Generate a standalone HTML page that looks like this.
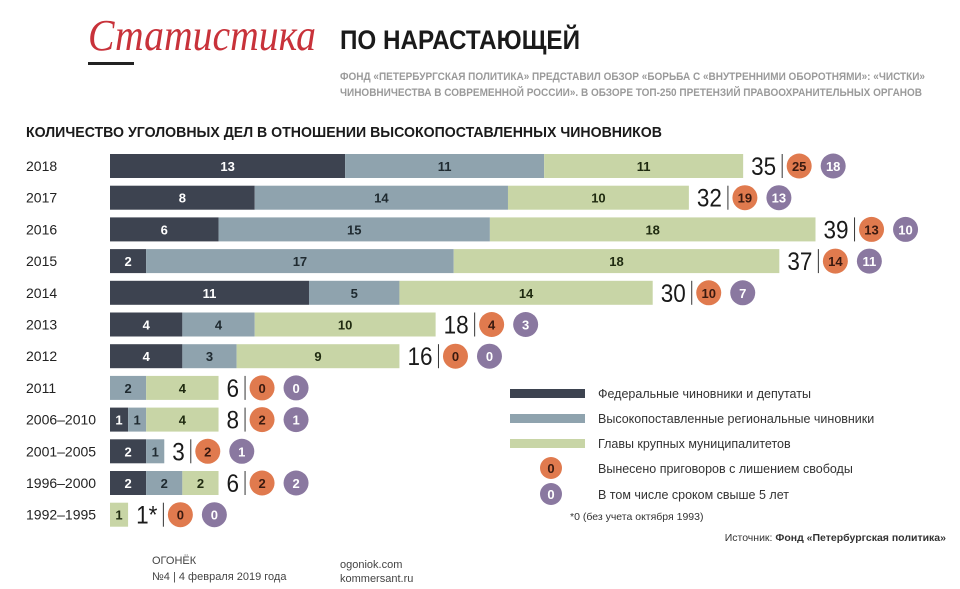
<!DOCTYPE html>
<html><head><meta charset="utf-8">
<style>
body{margin:0;background:#fff;}
svg{display:block;font-family:"Liberation Sans",sans-serif;}
</style></head>
<body>
<svg id="chart" width="960" height="589" viewBox="0 0 960 589">
  <text x="88" y="50" font-family="Liberation Serif,serif" font-style="italic" font-size="44" fill="#c8323a" textLength="228" lengthAdjust="spacingAndGlyphs">Статистика</text>
  <rect x="88" y="62" width="46" height="3" fill="#222"/>
  <text x="340" y="49" font-size="27" font-weight="bold" fill="#1a1a1a" textLength="240" lengthAdjust="spacingAndGlyphs">ПО НАРАСТАЮЩЕЙ</text>
  <text x="340" y="80" font-size="11" font-weight="bold" fill="#9a9a9a" textLength="585" lengthAdjust="spacingAndGlyphs">ФОНД «ПЕТЕРБУРГСКАЯ ПОЛИТИКА» ПРЕДСТАВИЛ ОБЗОР «БОРЬБА С «ВНУТРЕННИМИ ОБОРОТНЯМИ»: «ЧИСТКИ»</text>
  <text x="340" y="96" font-size="11" font-weight="bold" fill="#9a9a9a" textLength="582" lengthAdjust="spacingAndGlyphs">ЧИНОВНИЧЕСТВА В СОВРЕМЕННОЙ РОССИИ». В ОБЗОРЕ ТОП-250 ПРЕТЕНЗИЙ ПРАВООХРАНИТЕЛЬНЫХ ОРГАНОВ</text>
  <text x="26" y="137" font-size="15" font-weight="bold" fill="#1a1a1a" textLength="636" lengthAdjust="spacingAndGlyphs">КОЛИЧЕСТВО УГОЛОВНЫХ ДЕЛ В ОТНОШЕНИИ ВЫСОКОПОСТАВЛЕННЫХ ЧИНОВНИКОВ</text>
  <g id="bars"></g>
  <g id="legend">
    <rect x="510" y="389" width="75" height="9" fill="#3d4350"/>
    <text x="598" y="398" font-size="12.5" fill="#333">Федеральные чиновники и депутаты</text>
    <rect x="510" y="414" width="75" height="9" fill="#8fa3ae"/>
    <text x="598" y="423" font-size="12.5" fill="#333">Высокопоставленные региональные чиновники</text>
    <rect x="510" y="439" width="75" height="9" fill="#c8d5a6"/>
    <text x="598" y="448" font-size="12.5" fill="#333">Главы крупных муниципалитетов</text>
    <circle cx="551" cy="468" r="11" fill="#e07a4e"/>
    <text x="551" y="473" font-size="13" font-weight="bold" fill="#3a1a10" text-anchor="middle">0</text>
    <text x="598" y="473" font-size="12.5" fill="#333">Вынесено приговоров с лишением свободы</text>
    <circle cx="551" cy="494" r="11" fill="#8a78a0"/>
    <text x="551" y="499" font-size="13" font-weight="bold" fill="#fff" text-anchor="middle">0</text>
    <text x="598" y="499" font-size="12.5" fill="#333">В том числе сроком свыше 5 лет</text>
    <text x="570" y="520" font-size="10.5" fill="#333">*0 (без учета октября 1993)</text>
  </g>
  <text x="946" y="541" font-size="10.5" fill="#333" text-anchor="end">Источник: <tspan font-weight="bold">Фонд «Петербургская политика»</tspan></text>
  <text x="152" y="564" font-size="11" fill="#444">ОГОНЁК</text>
  <text x="152" y="580" font-size="11" fill="#444">№4 | 4 февраля 2019 года</text>
  <text x="340" y="568" font-size="11" fill="#444">ogoniok.com</text>
  <text x="340" y="582" font-size="11" fill="#444">kommersant.ru</text>
</svg>
<script>
const years = ["2018","2017","2016","2015","2014","2013","2012","2011","2006–2010","2001–2005","1996–2000","1992–1995"];
const federal = [13,8,6,2,11,4,4,0,1,2,2,0];
const regional = [11,14,15,17,5,4,3,2,1,1,2,0];
const municipal = [11,10,18,18,14,10,9,4,4,0,2,1];
const totalLabels = ["35","32","39","37","30","18","16","6","8","3","6","1*"];
const sentenced = [25,19,13,14,10,4,0,0,2,2,2,0];
const over5 = [18,13,10,11,7,3,0,0,1,1,2,0];

const NS = "http://www.w3.org/2000/svg";
const x0 = 110, unit = 18.09, y0 = 166, rowStep = 31.7, barH = 24;
const xScale = v => x0 + v * unit;
const yScale = i => y0 + i * rowStep;
const g = document.getElementById('bars');
function mk(tag, attrs, text){
  const e = document.createElementNS(NS, tag);
  for (const k in attrs) e.setAttribute(k, attrs[k]);
  if (text !== undefined) e.textContent = text;
  g.appendChild(e);
  return e;
}
const series = [
  {vals: federal, color: "#3d4350", tc: "#fff", name: "federal"},
  {vals: regional, color: "#8fa3ae", tc: "#1f2a30", name: "regional"},
  {vals: municipal, color: "#c8d5a6", tc: "#1f2a10", name: "municipal"}
];
years.forEach((yr, i) => {
  const cy = yScale(i);
  const lab = mk('text', {x: 26, y: cy + 5, 'font-size': 14, fill: '#222'}, yr);
  
  
  let acc = 0;
  series.forEach(s => {
    const v = s.vals[i];
    if (v > 0) {
      const r = mk('rect', {x: xScale(acc), y: cy - barH/2, width: xScale(acc + v) - xScale(acc), height: barH, fill: s.color});
      
      
      const t = mk('text', {x: (xScale(acc) + xScale(acc + v))/2, y: cy + 5, 'font-size': 13, 'font-weight': 'bold', fill: s.tc, 'text-anchor': 'middle'}, String(v));
      
      
    }
    acc += v;
  });
  const end = xScale(acc) + 8;
  const tl = mk('text', {x: end, y: cy + 9, 'font-size': 25, fill: '#1a1a1a'}, totalLabels[i]);
  
  
  let w = tl.getComputedTextLength ? tl.getComputedTextLength() : 28;
  w = w * 0.9;
  tl.setAttribute('textLength', w);
  tl.setAttribute('lengthAdjust', 'spacingAndGlyphs');
  const lx = end + w + 6;
  const ln = mk('line', {x1: lx, x2: lx, y1: cy - 12, y2: cy + 12, stroke: '#333', 'stroke-width': 1});
  
  
  const c1x = lx + 17, c2x = lx + 51;
  const c1 = mk('circle', {cx: c1x, cy: cy, r: 12.5, fill: '#e07a4e'});
  
  
  const t1 = mk('text', {x: c1x, y: cy + 5, 'font-size': 13, 'font-weight': 'bold', fill: '#3a1a10', 'text-anchor': 'middle'}, String(sentenced[i]));
  
  
  const c2 = mk('circle', {cx: c2x, cy: cy, r: 12.5, fill: '#8a78a0'});
  
  
  const t2 = mk('text', {x: c2x, y: cy + 5, 'font-size': 13, 'font-weight': 'bold', fill: '#fff', 'text-anchor': 'middle'}, String(over5[i]));
  
  
});
</script>
</body></html>
